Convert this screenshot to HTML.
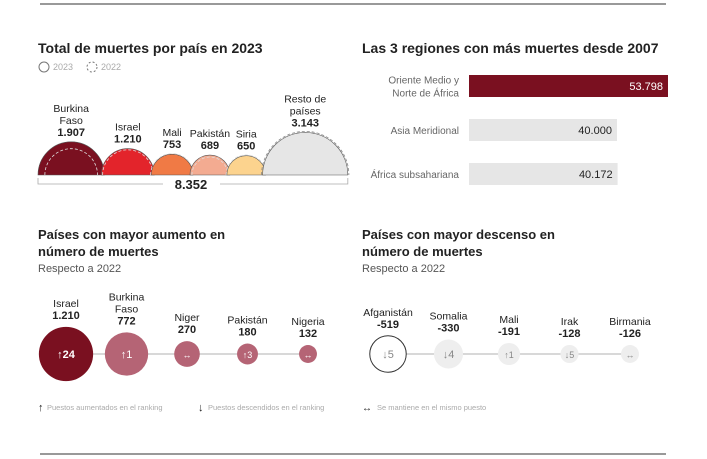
<!DOCTYPE html>
<html><head><meta charset="utf-8">
<style>
html,body{margin:0;padding:0;background:#fff;}
svg{display:block;font-family:"Liberation Sans",Arial,sans-serif;}
</style></head>
<body>
<svg id="c" width="707" height="459" viewBox="0 0 707 459">
<line x1="40" y1="4" x2="666" y2="4" stroke="#333" stroke-width="1"/>
<line x1="40" y1="454" x2="666" y2="454" stroke="#333" stroke-width="1"/>
<text x="38" y="53" font-size="14" font-weight="bold" fill="#222">Total de muertes por país en 2023</text>
<g>
<circle cx="44" cy="67" r="5" fill="none" stroke="#777"/>
<text x="53" y="70" font-size="9" fill="#aaa">2023</text>
<circle cx="92" cy="67" r="5" fill="none" stroke="#777" stroke-dasharray="2,2"/>
<text x="101" y="70" font-size="9" fill="#aaa">2022</text>
</g>
<g id="semis"></g>
<text x="362" y="53" font-size="14" font-weight="bold" fill="#222">Las 3 regiones con más muertes desde 2007</text>
<g id="bars"></g>
<text x="38" y="239" font-size="13" font-weight="bold" fill="#222">Países con mayor aumento en</text>
<text x="38" y="256" font-size="13" font-weight="bold" fill="#222">número de muertes</text>
<text x="38" y="272" font-size="11" fill="#555">Respecto a 2022</text>
<text x="362" y="239" font-size="13" font-weight="bold" fill="#222">Países con mayor descenso en</text>
<text x="362" y="256" font-size="13" font-weight="bold" fill="#222">número de muertes</text>
<text x="362" y="272" font-size="11" fill="#555">Respecto a 2022</text>
<g id="inc"></g><g id="dec"></g>
<g>
<text x="38" y="411" font-size="11" fill="#222">↑</text><text x="47" y="410" font-size="7.5" fill="#aaa">Puestos aumentados en el ranking</text>
<text x="198" y="411" font-size="11" fill="#222">↓</text><text x="208" y="410" font-size="7.5" fill="#aaa">Puestos descendidos en el ranking</text>
<text x="362" y="411" font-size="10" fill="#222">↔</text><text x="377" y="410" font-size="7.5" fill="#aaa">Se mantiene en el mismo puesto</text>
</g>
</svg>
<script>
const NS="http://www.w3.org/2000/svg";
function mk(p,t,a){const e=document.createElementNS(NS,t);for(const k in a)e.setAttribute(k,a[k]);p.appendChild(e);return e;}
// semicircles
const semiNames=[["Burkina","Faso"],["Israel"],["Mali"],["Pakistán"],["Siria"],["Resto de","países"]];
const semiValues=[1907,1210,753,689,650,3143];
const semiLabels=["1.907","1.210","753","689","650","3.143"];
const semiPrev=[1200,1100,800,560,700,3300];
const semiColors=["#7a1020","#e3242b","#f07a45","#f3ab91","#fcd38e","#e6e6e6"];
const totalLabel="8.352";
const g1=document.getElementById('semis');
const base=175,k=0.76;let x=38;
semiValues.forEach((v,i)=>{
  const r=k*Math.sqrt(v),cx=x+r,rp=k*Math.sqrt(semiPrev[i]);
  const p=mk(g1,'path',{d:`M${cx-r},${base} A${r},${r} 0 0 1 ${cx+r},${base} Z`,fill:semiColors[i],stroke:'#555','stroke-width':0.6});
  
  
  const d=mk(g1,'path',{d:`M${cx-rp},${base} A${rp},${rp} 0 0 1 ${cx+rp},${base}`,fill:'none',stroke:i==5?'#888':'#ddd','stroke-dasharray':'3,2','stroke-width':0.8});
  
  
  const n=semiNames[i];let ty=base-r-6;
  const vt=mk(g1,'text',{x:cx,y:ty,'text-anchor':'middle','font-size':11,'font-weight':'bold',fill:'#222'});vt.textContent=semiLabels[i];
  
  
  for(let j=n.length-1;j>=0;j--){ty-=12;const t=mk(g1,'text',{x:cx,y:ty,'text-anchor':'middle','font-size':10.5,fill:'#222'});t.textContent=n[j];
    
    }
  x+=2*r-3;
});
x+=3;
const brk=mk(g1,'path',{d:`M38,178 V184 H163 M220,184 H${x} V178`,fill:'none',stroke:'#aaa','stroke-width':0.8});


const tt=mk(g1,'text',{x:191,y:189,'text-anchor':'middle','font-size':13,'font-weight':'bold',fill:'#222'});tt.textContent=totalLabel;


// bars
const regNames=[["Oriente Medio y","Norte de África"],["Asia Meridional"],["África subsahariana"]];
const regValues=[53798,40000,40172];
const regLabels=["53.798","40.000","40.172"];
const g2=document.getElementById('bars');
const bx=469,bw=199,bmax=53798;
regValues.forEach((v,i)=>{
  const y=75+i*44,w=bw*v/bmax;
  const b=mk(g2,'rect',{x:bx,y:y,width:w,height:22,fill:i==0?'#7a1020':'#e6e6e6'});
  
  
  const t=mk(g2,'text',{x:bx+w-5,y:y+15,'text-anchor':'end','font-size':11,fill:i==0?'#fff':'#222'});t.textContent=regLabels[i];
  
  
  const n=regNames[i];
  n.forEach((s,j)=>{const l=mk(g2,'text',{x:459,y:y+15+(j-(n.length-1)/2)*13,'text-anchor':'end','font-size':10,fill:'#666'});l.textContent=s;
    
    });
});
// bubbles
const incNames=[["Israel"],["Burkina","Faso"],["Niger"],["Pakistán"],["Nigeria"]];
const incValues=[1210,772,270,180,132];
const incLabels=["1.210","772","270","180","132"];
const incRank=["↑24","↑1","↔","↑3","↔"];
const decNames=[["Afganistán"],["Somalia"],["Mali"],["Irak"],["Birmania"]];
const decValues=[519,330,191,128,126];
const decLabels=["-519","-330","-191","-128","-126"];
const decRank=["↓5","↓4","↑1","↓5","↔"];
function bubbles(id,names,vals,labels,ranks,x0,kk,inc){
  const g=document.getElementById(id),cy=354,step=60.5;
  const l=mk(g,'line',{x1:x0,y1:cy,x2:x0+step*4,y2:cy,stroke:'#ccc','stroke-width':1.5});
  
  
  vals.forEach((v,i)=>{
    const cx=x0+i*step,r=Math.max(8,kk*Math.sqrt(v));
    let fill,stroke='none',tc='#fff';
    if(inc){fill=i==0?'#7a1020':'#b56475';}else{fill=i==0?'#fff':'#eeeeee';stroke=i==0?'#333':'none';tc='#888';}
    const c=mk(g,'circle',{cx:cx,cy:cy,r:r,fill:fill,stroke:stroke});
    
    
    const rt=mk(g,'text',{x:cx,y:cy+4,'text-anchor':'middle','font-size':r>14?11:9,fill:tc,'font-weight':inc&&i==0?'bold':'normal'});rt.textContent=ranks[i];
    
    
    let ty=cy-r-8;
    const vt=mk(g,'text',{x:cx,y:ty,'text-anchor':'middle','font-size':11,'font-weight':'bold',fill:'#222'});vt.textContent=labels[i];
    
    
    const n=names[i];
    for(let j=n.length-1;j>=0;j--){ty-=12;const t=mk(g,'text',{x:cx,y:ty,'text-anchor':'middle','font-size':10.5,fill:'#222'});t.textContent=n[j];
      
      }
  });
}
bubbles('inc',incNames,incValues,incLabels,incRank,66,0.78,true);
bubbles('dec',decNames,decValues,decLabels,decRank,388,0.8,false);
</script>
</body></html>
